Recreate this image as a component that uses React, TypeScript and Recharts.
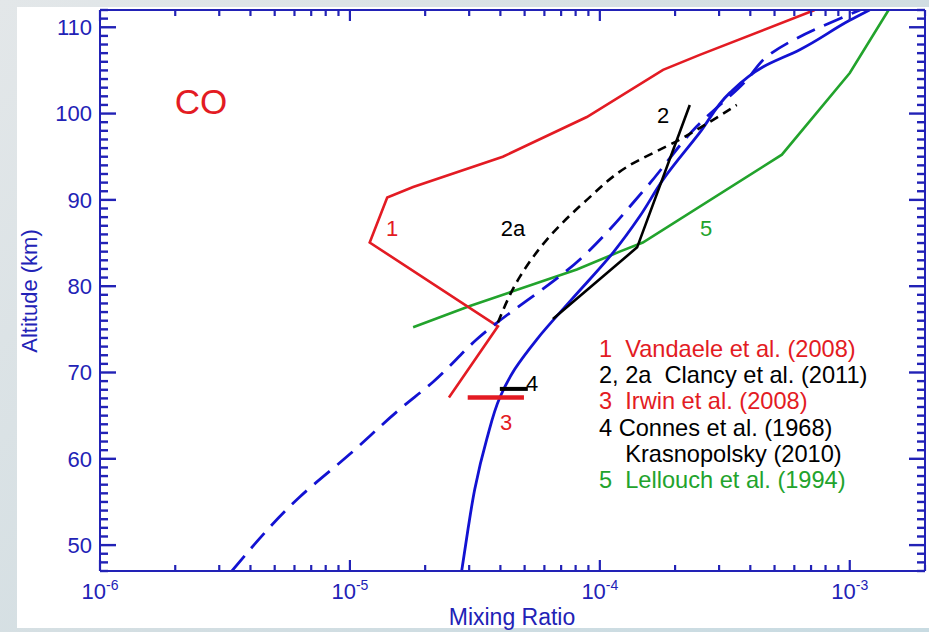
import React from 'react';
import { LineChart, Line, XAxis, YAxis } from 'recharts';

// ---- data (mixing ratio, altitude km) ----
const modelSolidX = [2.8e-5, 2.97e-5, 3.16e-5, 3.53e-5, 3.98e-5, 4.57e-5, 5.6e-5, 7.73e-5, 1.13e-4, 1.445e-4, 1.79e-4, 2.51e-4, 3.31e-4, 4.49e-4, 6.31e-4, 1.0e-3, 1.2e-3];
const modelSolidAlt = [47, 51.9, 56.5, 62.3, 67.1, 70.4, 73.85, 78.5, 83.9, 88.1, 92.35, 97.8, 102.4, 105.4, 107.4, 110.8, 112];

const modelDashX = [3.37e-6, 6.31e-6, 1.0e-5, 1.585e-5, 2.15e-5, 3.22e-5, 8.32e-5, 1.54e-4, 2.44e-4, 3.87e-4, 4.66e-4, 1.1e-3];
const modelDashAlt = [47, 55.6, 60.55, 65.76, 68.9, 73.85, 83.1, 91.5, 98.5, 103.9, 106.6, 112];

const vandaeleX = [2.49e-5, 3.91e-5, 1.2e-5, 1.41e-5, 1.79e-5, 4.09e-5, 8.87e-5, 1.79e-4, 2.51e-4, 7.24e-4];
const vandaeleAlt = [67.1, 75.35, 85.06, 90.27, 91.5, 95.0, 99.6, 105.06, 106.8, 112];

const irwinX = [2.96e-5, 4.97e-5];
const irwinAlt = [67.1, 67.1];

const connesX = [3.98e-5, 5.15e-5];
const connesAlt = [68.1, 68.1];

const clancy2X = [6.49e-5, 1.41e-4, 2.29e-4];
const clancy2Alt = [76.2, 84.5, 101.0];

const clancy2aX = [3.91e-5, 4.79e-5, 6.14e-5, 8.87e-5, 1.28e-4, 2.09e-4, 3.53e-4];
const clancy2aAlt = [75.8, 81.1, 85.4, 90.0, 93.8, 97.0, 101.0];

const lellouchX = [1.79e-5, 3.02e-5, 8.09e-5, 1.2e-4, 1.486e-4, 5.35e-4, 1.0e-3, 1.43e-3];
const lellouchAlt = [75.24, 77.7, 81.94, 84.0, 85.06, 95.24, 104.7, 112];

const xDomain = [1e-6, 2e-3];
const yDomain = [47, 112];
const xMajorExps = [-6, -5, -4, -3];
const yMajorLabels = [50, 60, 70, 80, 90, 100, 110];

const legendLines = [
  { text: '1  Vandaele et al. (2008)', color: 'red' },
  { text: '2, 2a  Clancy et al. (2011)', color: 'black' },
  { text: '3  Irwin et al. (2008)', color: 'red' },
  { text: '4 Connes et al. (1968)', color: 'black' },
  { text: '    Krasnopolsky (2010)', color: 'black' },
  { text: '5  Lellouch et al. (1994)', color: 'green' },
];

// ---- helpers ----
const zip = (xs: number[], ys: number[]) => xs.map((x, i) => ({ x, alt: ys[i] }));

const xTicks: number[] = [];
for (let e = -6; e <= -3; e++) {
  for (let m = 1; m <= 9; m++) {
    const v = m * Math.pow(10, e);
    if (v <= xDomain[1] * 1.0000001) xTicks.push(v);
  }
}
const yTicks: number[] = [];
for (let a = yDomain[0]; a <= yDomain[1]; a++) yTicks.push(a);

const AXIS = '#2222b6';
const BLUE = '#1212d2';
const RED = '#e31b23';
const GREEN = '#22a32c';
const BLACK = '#000000';
const FONT = '"Liberation Sans", Arial, Helvetica, sans-serif';
const colorOf: Record<string, string> = { red: RED, black: BLACK, green: GREEN };

const isMajorX = (v: number) => {
  const l = Math.log10(v);
  return Math.abs(l - Math.round(l)) < 1e-6;
};

const BottomTick = (props: any) => {
  const { x, y, payload } = props;
  const v = payload.value;
  const major = isMajorX(v);
  const exp = Math.round(Math.log10(v));
  return (
    <g>
      <path d={`M${x},${y}V${y - (major ? 11 : 6)}`} stroke={AXIS} strokeWidth={2.2} fill="none" />
      {major && xMajorExps.includes(exp) && (
        <text x={x} y={y + 28} textAnchor="middle" fill={AXIS} fontSize={22} fontFamily={FONT}>
          10<tspan dy={-9} fontSize={14}>{String(exp)}</tspan>
        </text>
      )}
    </g>
  );
};

const TopTick = (props: any) => {
  const { x, y, payload } = props;
  const major = isMajorX(payload.value);
  return <path d={`M${x},${y}V${y + (major ? 11 : 6)}`} stroke={AXIS} strokeWidth={2.2} fill="none" />;
};

const LeftTick = (props: any) => {
  const { x, y, payload } = props;
  const v = payload.value;
  const major = v % 10 === 0;
  return (
    <g>
      <path d={`M${x},${y}H${x + (major ? 16 : 8)}`} stroke={AXIS} strokeWidth={2.4} fill="none" />
      {major && yMajorLabels.includes(v) && (
        <text x={x - 8} y={y} dy="0.36em" textAnchor="end" fill={AXIS} fontSize={22} fontFamily={FONT}>
          {String(v)}
        </text>
      )}
    </g>
  );
};

const RightTick = (props: any) => {
  const { x, y, payload } = props;
  const major = payload.value % 10 === 0;
  return <path d={`M${x},${y}H${x - (major ? 16 : 8)}`} stroke={AXIS} strokeWidth={2.4} fill="none" />;
};

const W = 929;
const H = 632;

export default function App() {
  return (
    <div style={{ position: 'absolute', left: 0, top: 0, width: W, height: H, overflow: 'hidden', background: 'linear-gradient(135deg, #e3e7e9 0%, #d3dee2 50%, #c8dbe2 100%)' }}>
      <div style={{ position: 'absolute', left: 17, top: 7, width: W - 17, height: 621, background: '#ffffff' }} />
      <div style={{ position: 'absolute', left: 0, top: 0 }}>
        <LineChart width={W} height={H} margin={{ top: 9, right: 3, bottom: 0, left: 0 }}>
          <XAxis
            xAxisId="b"
            dataKey="x"
            type="number"
            scale="log"
            domain={xDomain}
            allowDataOverflow
            ticks={xTicks}
            interval={0}
            tickSize={0}
            tickMargin={0}
            tickLine={false}
            tick={<BottomTick />}
            axisLine={{ stroke: AXIS, strokeWidth: 2 }}
            height={61}
            orientation="bottom"
          />
          <XAxis
            xAxisId="t"
            dataKey="x"
            type="number"
            scale="log"
            domain={xDomain}
            allowDataOverflow
            ticks={xTicks}
            interval={0}
            tickSize={0}
            tickMargin={0}
            tickLine={false}
            tick={<TopTick />}
            axisLine={{ stroke: AXIS, strokeWidth: 2 }}
            height={1}
            orientation="top"
          />
          <YAxis
            yAxisId="l"
            type="number"
            domain={yDomain}
            allowDataOverflow
            ticks={yTicks}
            interval={0}
            tickSize={0}
            tickMargin={0}
            tickLine={false}
            tick={<LeftTick />}
            axisLine={{ stroke: AXIS, strokeWidth: 2 }}
            width={100}
            orientation="left"
          />
          <YAxis
            yAxisId="r"
            type="number"
            domain={yDomain}
            allowDataOverflow
            ticks={yTicks}
            interval={0}
            tickSize={0}
            tickMargin={0}
            tickLine={false}
            tick={<RightTick />}
            axisLine={{ stroke: AXIS, strokeWidth: 2 }}
            width={1}
            orientation="right"
          />
          <Line xAxisId="b" yAxisId="l" data={zip(lellouchX, lellouchAlt)} dataKey="alt" type="linear" stroke={GREEN} strokeWidth={2.6} dot={false} isAnimationActive={false} />
          <Line xAxisId="b" yAxisId="l" data={zip(vandaeleX, vandaeleAlt)} dataKey="alt" type="linear" stroke={RED} strokeWidth={2.6} dot={false} isAnimationActive={false} />
          <Line xAxisId="b" yAxisId="l" data={zip(modelDashX, modelDashAlt)} dataKey="alt" type="monotoneY" stroke={BLUE} strokeWidth={2.8} strokeDasharray="20 10" dot={false} isAnimationActive={false} />
          <Line xAxisId="b" yAxisId="l" data={zip(modelSolidX, modelSolidAlt)} dataKey="alt" type="monotoneY" stroke={BLUE} strokeWidth={2.8} dot={false} isAnimationActive={false} />
          <Line xAxisId="b" yAxisId="l" data={zip(clancy2aX, clancy2aAlt)} dataKey="alt" type="monotoneY" stroke={BLACK} strokeWidth={2.6} strokeDasharray="9 6" dot={false} isAnimationActive={false} />
          <Line xAxisId="b" yAxisId="l" data={zip(clancy2X, clancy2Alt)} dataKey="alt" type="linear" stroke={BLACK} strokeWidth={2.6} dot={false} isAnimationActive={false} />
          <Line xAxisId="b" yAxisId="l" data={zip(irwinX, irwinAlt)} dataKey="alt" type="linear" stroke={RED} strokeWidth={4.5} dot={false} isAnimationActive={false} />
          <Line xAxisId="b" yAxisId="l" data={zip(connesX, connesAlt)} dataKey="alt" type="linear" stroke={BLACK} strokeWidth={4} dot={false} isAnimationActive={false} />
        </LineChart>
      </div>
      <svg width={W} height={H} style={{ position: 'absolute', left: 0, top: 0, pointerEvents: 'none' }} fontFamily={FONT}>
        <text x={201} y={101} dy="0.36em" textAnchor="middle" fill={RED} fontSize={35}>CO</text>
        <text x={392} y={228} dy="0.36em" textAnchor="middle" fill={RED} fontSize={22}>1</text>
        <text x={513} y={228} dy="0.36em" textAnchor="middle" fill={BLACK} fontSize={22}>2a</text>
        <text x={663} y={115} dy="0.36em" textAnchor="middle" fill={BLACK} fontSize={22}>2</text>
        <text x={706} y={228} dy="0.36em" textAnchor="middle" fill={GREEN} fontSize={22}>5</text>
        <text x={506} y={422} dy="0.36em" textAnchor="middle" fill={RED} fontSize={22}>3</text>
        <text x={532} y={383} dy="0.36em" textAnchor="middle" fill={BLACK} fontSize={22}>4</text>
        {legendLines.map((l, i) => (
          <text key={i} x={599} y={348.5 + i * 26.2} dy="0.36em" fill={colorOf[l.color]} fontSize={23.6} style={{ whiteSpace: 'pre' }}>
            {l.text}
          </text>
        ))}
        <text x={512} y={617} dy="0.36em" textAnchor="middle" fill={AXIS} fontSize={23}>Mixing Ratio</text>
        <text x={0} y={0} dy="0.36em" textAnchor="middle" fill={AXIS} fontSize={22} transform="translate(29 291) rotate(-90)">Altitude (km)</text>
      </svg>
    </div>
  );
}
